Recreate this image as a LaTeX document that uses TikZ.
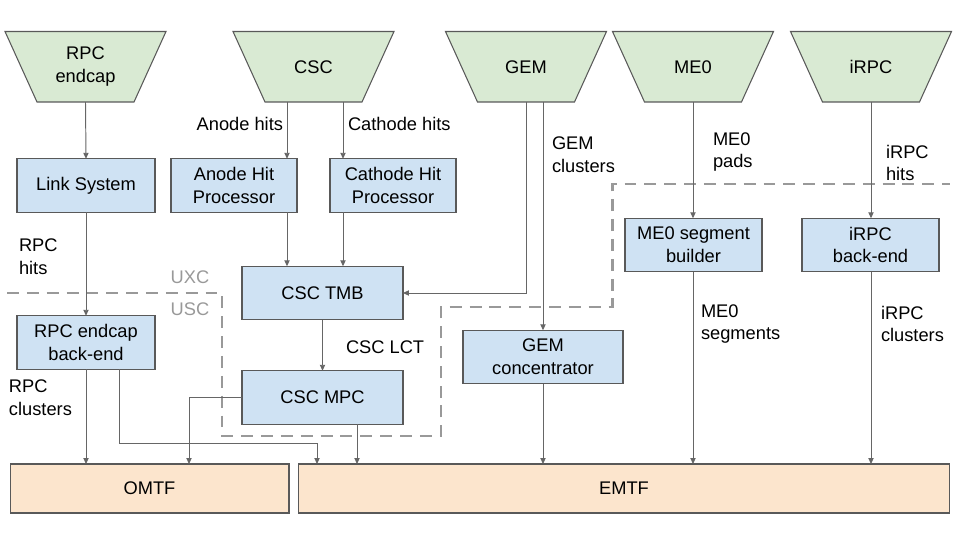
\documentclass[tikz,border=0pt]{standalone}
\usepackage{fontspec}
\setmainfont{Liberation Sans}
\usepackage{tikz}
\usetikzlibrary{arrows.meta,positioning,calc}
\usepackage{xcolor}
\definecolor{boxblue}{HTML}{CFE2F3}
\definecolor{detgreen}{HTML}{D9EAD3}
\definecolor{tforange}{HTML}{FCE5CD}
\definecolor{edgegray}{HTML}{595959}
\definecolor{linegray}{HTML}{666666}
\definecolor{zonegray}{HTML}{999999}
\begin{document}
\begin{tikzpicture}[x=0.02cm, y=-0.02cm,
    every node/.style={font=\fontsize{10.4}{13}\selectfont, inner sep=0pt, outer sep=0pt},
    detshape/.style={draw=edgegray, line width=0.6pt, fill=detgreen},
    dettext/.style={rectangle, align=center, minimum width=1.94cm, minimum height=1.42cm},
    procbox/.style={rectangle, draw=edgegray, line width=0.6pt, fill=boxblue, align=center, minimum height=1.07cm},
    tfbox/.style={rectangle, draw=edgegray, line width=0.6pt, fill=tforange, align=center, minimum height=0.98cm},
    lbl/.style={anchor=west, align=left},
    arr/.style={draw=linegray, line width=0.55pt, -{Triangle[length=3.4pt, width=3pt]}},
    zone/.style={draw=zonegray, line width=1.7pt, dash pattern=on 6.8pt off 4.5pt}]
    \useasboundingbox (0,0) rectangle (960,540);
    \foreach \cx in {85.5,313.5,526,693,871}
        \filldraw[detshape] (\cx-80.5,31.5) -- (\cx+80.5,31.5) -- (\cx+48.5,102) -- (\cx-48.5,102) -- cycle;
    \node[dettext] (rpc) at (85.5,66.75) {RPC\\endcap};
    \node[dettext] (csc) at (313.5,66.75) {CSC};
    \node[dettext] (gem) at (526,66.75) {GEM};
    \node[dettext] (me0) at (693,66.75) {ME0};
    \node[dettext] (irpc) at (871,66.75) {iRPC};
    \node[procbox, minimum width=2.76cm] (link) at (86,185.5) {Link System};
    \node[procbox, minimum width=2.52cm] (anode) at (234,185.5) {Anode Hit\\Processor};
    \node[procbox, minimum width=2.52cm] (cathode) at (393,185.5) {Cathode Hit\\Processor};
    \node[procbox, minimum width=3.22cm] (tmb) at (322.5,293) {CSC TMB};
    \node[procbox, minimum width=3.22cm] (mpc) at (322.5,397.5) {CSC MPC};
    \node[procbox, minimum width=2.76cm] (rpcbe) at (86,342.5) {RPC endcap\\back-end};
    \node[procbox, minimum width=3.2cm] (gemconc) at (543,357) {GEM\\concentrator};
    \node[procbox, minimum width=2.74cm] (me0seg) at (693.5,245) {ME0 segment\\builder};
    \node[procbox, minimum width=2.74cm] (irpcbe) at (870.5,245) {iRPC\\back-end};
    \node[tfbox, minimum width=5.58cm] (omtf) at (149.5,488.5) {OMTF};
    \node[tfbox, minimum width=13.04cm] (emtf) at (624,488.5) {EMTF};
    \draw[zone] (7,293) -- (222,293) -- (222,436) -- (441,436) -- (441,307) -- (612,307) -- (612,184) -- (950,184);
    \node[text=zonegray] (uxc) at (190,277) {UXC};
    \node[text=zonegray] (usc) at (190,309) {USC};
    \node[anchor=east] (anodehits) at (283,124) {Anode hits};
    \node[lbl] (cathodehits) at (348,124) {Cathode hits};
    \node[lbl] (rpchits) at (19,257) {RPC\\hits};
    \node[lbl] (rpcclus) at (9,398) {RPC\\clusters};
    \node[lbl] (gemclus) at (552,155) {GEM\\clusters};
    \node[lbl] (me0pads) at (713,152) {ME0\\pads};
    \node[lbl] (irpchits) at (886,163) {iRPC\\hits};
    \node[lbl] (me0segs) at (701,324) {ME0\\segments};
    \node[lbl] (irpcclus) at (881,324) {iRPC\\clusters};
    \node[lbl] (csclct) at (346,347) {CSC LCT};
    \draw[arr] (rpc.south) -- (link.north);
    \draw[arr] (link.south) -- (rpcbe.north);
    \draw[arr] (rpcbe.south) -- (omtf.north -| rpcbe.south);
    \coordinate (rpcbend) at (317,443);
    \draw[arr] (rpcbe.south -| 119,0) |- (rpcbend) -- (emtf.north -| rpcbend);
    \draw[arr] (mpc.west) -| (omtf.north -| 189,0);
    \draw[arr] (mpc.south -| 357,0) -- (emtf.north -| 357,0);
    \draw[arr] (tmb) -- (mpc);
    \draw[arr] (csc.south -| 287,0) -- (anode.north -| 287,0);
    \draw[arr] (csc.south -| 343,0) -- (cathode.north -| 343,0);
    \draw[arr] (anode.south -| 287,0) -- (tmb.north -| 287,0);
    \draw[arr] (cathode.south -| 343,0) -- (tmb.north -| 343,0);
    \draw[arr] (gem.south) |- (tmb.east);
    \draw[arr] (gem.south -| 543,0) -- (gemconc.north -| 543,0);
    \draw[arr] (gemconc.south -| 543,0) -- (emtf.north -| 543,0);
    \draw[arr] (me0.south) -- (me0seg.north -| me0.south);
    \draw[arr] (me0seg.south -| me0.south) -- (emtf.north -| me0.south);
    \draw[arr] (irpc.south) -- (irpcbe.north -| irpc.south);
    \draw[arr] (irpcbe.south -| irpc.south) -- (emtf.north -| irpc.south);
\end{tikzpicture}
\end{document}
